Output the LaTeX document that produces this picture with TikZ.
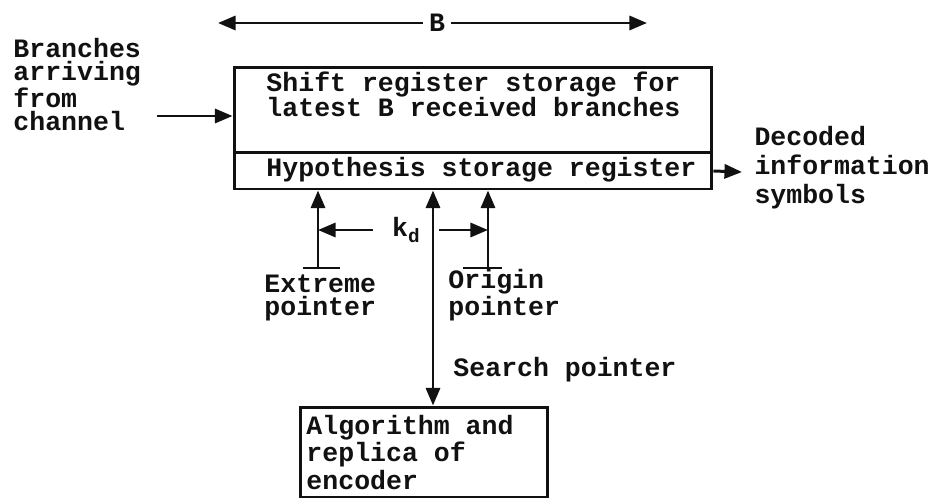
\documentclass[tikz,border=0pt]{standalone}
\usepackage{fontspec}
\setmainfont{Liberation Mono}
\usetikzlibrary{arrows.meta}

\definecolor{scanInk}{HTML}{111111}

\begin{document}
\begin{tikzpicture}[x=0.02cm,y=-0.02cm,color=scanInk,line width=1.7pt,
  font=\bfseries\fontsize{15.1}{17}\selectfont,
  tip/.style={-{Triangle[length=10pt,width=8pt]}},
  twotip/.style={{Triangle[length=10pt,width=8pt]}-{Triangle[length=10pt,width=8pt]}},
  regbox/.style={draw,inner sep=0pt,minimum width=9.56cm},
  lbl/.style={anchor=base west,inner sep=0pt,align=left,
    font=\bfseries\fontsize{15.1}{#1}\selectfont}]
  \useasboundingbox (0,0) rectangle (930,500);

  \node[regbox,minimum height=1.72cm] (shiftreg) at (473,110) {};
  \node[regbox,minimum height=0.72cm] (hyp) at (473,171) {};
  \node[draw,inner sep=0pt,minimum width=4.96cm,minimum height=1.8cm] (algo) at (424,452) {};

  % anchors sit on the last baseline of each label
  \node[lbl=13.3] (branches) at (12,131) {Branches\\arriving\\from\\channel};
  \node[lbl=14.4] (shifttext) at (265,117) {Shift register storage for\\latest B received branches};
  \node[lbl=15.9] (hyptext) at (265,176) {Hypothesis storage register};
  \node[lbl=12.6] (extreme) at (263,315) {Extreme\\pointer};
  \node[lbl=12.6] (origin) at (447,315) {Origin\\pointer};
  \node[lbl=15.9] (search) at (452,376) {Search pointer};
  \node[lbl=15.4] (algotext) at (305,489) {Algorithm and\\replica of\\encoder};
  \node[lbl=16.5] (decoded) at (753,203) {Decoded\\information\\symbols};

  \node[inner ysep=0pt,inner xsep=0.1cm] (bwidth) at (437,23) {B};
  \coordinate (bleft) at (218,23);
  \coordinate (bright) at (647,23);
  \draw[tip] (bwidth.west) -- (bleft);
  \draw[tip] (bwidth.east) -- (bright);

  \coordinate (inp) at (157,116);
  \coordinate (outp) at (742,172);
  \draw[tip] (inp) -- (inp -| shiftreg.west);
  \draw[tip] (hyp.east) -- (outp);

  \coordinate (xptr) at (318,268);
  \coordinate (optr) at (488,268);
  \coordinate (sptr) at (433,300);
  \draw (xptr) ++(-15,0) -- ++(37,0);
  \draw (optr) ++(-25,0) -- ++(39,0);
  \draw[tip] (xptr) -- (xptr |- hyp.south);
  \draw[tip] (optr) -- (optr |- hyp.south);
  \draw[twotip] (sptr |- hyp.south) -- (sptr |- algo.north);

  \node[inner ysep=0pt,inner xsep=0.36cm] (kd) at (406,230)
    {k\raisebox{-0.45ex}{\fontsize{11}{11}\selectfont d}};
  \draw[tip] (kd.west) -- (kd.west -| xptr);
  \draw[tip] (kd.east) -- (kd.east -| optr);
\end{tikzpicture}
\end{document}
